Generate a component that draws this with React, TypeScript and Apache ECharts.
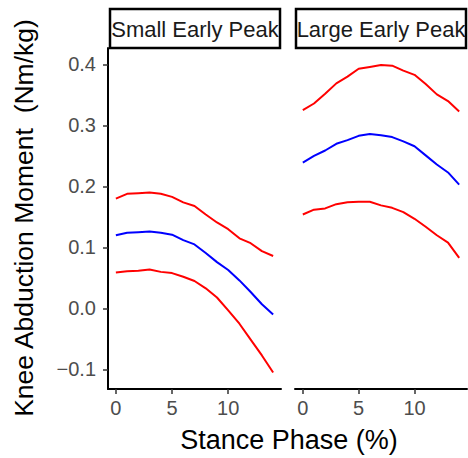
import React, { useEffect, useRef } from "react";
import * as echarts from "echarts";

const stance = [0, 1, 2, 3, 4, 5, 6, 7, 8, 9, 10, 11, 12, 13, 14];
const panelTitles = ["Small Early Peak", "Large Early Peak"];

const smallUpper = [0.180, 0.188, 0.189, 0.190, 0.188, 0.183, 0.174, 0.168, 0.154, 0.141, 0.130, 0.115, 0.107, 0.094, 0.086];
const smallMean = [0.120, 0.124, 0.125, 0.126, 0.124, 0.121, 0.112, 0.105, 0.091, 0.076, 0.063, 0.046, 0.027, 0.007, -0.010];
const smallLower = [0.059, 0.061, 0.062, 0.064, 0.060, 0.058, 0.052, 0.045, 0.033, 0.018, -0.003, -0.025, -0.051, -0.077, -0.105];

const largeUpper = [0.325, 0.336, 0.352, 0.369, 0.380, 0.393, 0.396, 0.399, 0.398, 0.390, 0.383, 0.368, 0.351, 0.340, 0.323];
const largeMean = [0.239, 0.250, 0.259, 0.270, 0.276, 0.283, 0.286, 0.284, 0.281, 0.274, 0.266, 0.251, 0.236, 0.223, 0.203];
const largeLower = [0.154, 0.162, 0.164, 0.171, 0.174, 0.175, 0.175, 0.169, 0.165, 0.158, 0.147, 0.134, 0.120, 0.108, 0.083];

const yTicks = [-0.1, 0.0, 0.1, 0.2, 0.3, 0.4];
const xTicks = [0, 5, 10];

const FONT = "'Liberation Sans', Arial, sans-serif";

export default function App() {
  const ref = useRef<HTMLDivElement>(null);
  useEffect(() => {
    if (!ref.current) return;
    const chart = echarts.init(ref.current, null, { renderer: "svg" });
    const pair = (ys: number[]) => stance.map((x, i) => [x, ys[i]]);
    const grids = [
      { left: 108, top: 48, width: 173, height: 341 },
      { left: 295, top: 48, width: 172, height: 341 },
    ];
    const xAxisBase = (gi: number) => ({
      type: "value",
      gridIndex: gi,
      min: -0.7,
      max: 14.7,
      splitLine: { show: false },
      axisLine: { show: true, onZero: false, lineStyle: { color: "#000", width: 2 } },
      axisTick: { show: true, customValues: xTicks, length: 5, lineStyle: { color: "#333", width: 1.5 } },
      axisLabel: {
        customValues: xTicks,
        margin: 9,
        fontSize: 20,
        color: "#4d4d4d",
        fontFamily: FONT,
      },
    });
    const yAxisBase = (gi: number, show: boolean) => ({
      type: "value",
      gridIndex: gi,
      min: -0.132,
      max: 0.427,
      splitLine: { show: false },
      axisLine: { show: show, onZero: false, lineStyle: { color: "#000", width: 2 } },
      axisTick: { show: show, customValues: yTicks, length: 5, lineStyle: { color: "#333", width: 1.5 } },
      axisLabel: {
        show: show,
        customValues: yTicks,
        margin: 12,
        fontSize: 20,
        color: "#4d4d4d",
        fontFamily: FONT,
        formatter: (v: number) => v.toFixed(1).replace("-", "\u2212"),
      },
    });
    const line = (gi: number, ys: number[], color: string) => ({
      type: "line",
      xAxisIndex: gi,
      yAxisIndex: gi,
      data: pair(ys),
      showSymbol: false,
      symbol: "none",
      lineStyle: { color, width: 2 },
    });
    const strip = (gi: number, x: number, w: number) => [
      {
        type: "rect",
        shape: { x, y: 9, width: w, height: 39 },
        style: { fill: "#fff", stroke: "#000", lineWidth: 2.5 },
      },
      {
        type: "text",
        x: x + w / 2,
        y: 29,
        style: {
          text: panelTitles[gi],
          align: "center",
          verticalAlign: "middle",
          fontSize: 22,
          fill: "#1a1a1a",
          fontFamily: FONT,
        },
      },
    ];
    chart.setOption({
      animation: false,
      grid: grids,
      xAxis: [xAxisBase(0), xAxisBase(1)],
      yAxis: [yAxisBase(0, true), yAxisBase(1, false)],
      series: [
        line(0, smallUpper, "#ff0000"),
        line(0, smallMean, "#0000ff"),
        line(0, smallLower, "#ff0000"),
        line(1, largeUpper, "#ff0000"),
        line(1, largeMean, "#0000ff"),
        line(1, largeLower, "#ff0000"),
      ],
      graphic: [
        ...strip(0, 110, 170),
        ...strip(1, 296, 170),
        {
          type: "text",
          x: 289,
          y: 440,
          style: {
            text: "Stance Phase (%)",
            align: "center",
            verticalAlign: "middle",
            fontSize: 27,
            fill: "#000",
            fontFamily: FONT,
          },
        },
        {
          type: "text",
          x: 24,
          y: 218,
          rotation: Math.PI / 2,
          style: {
            text: "Knee Abduction Moment  (Nm/kg)",
            align: "center",
            verticalAlign: "middle",
            fontSize: 26.5,
            fill: "#000",
            fontFamily: FONT,
          },
        },
      ],
    });
    return () => chart.dispose();
  }, []);
  return (
    <div
      ref={ref}
      style={{ position: "absolute", left: 0, top: 0, width: 468, height: 458, background: "#fff" }}
    />
  );
}
